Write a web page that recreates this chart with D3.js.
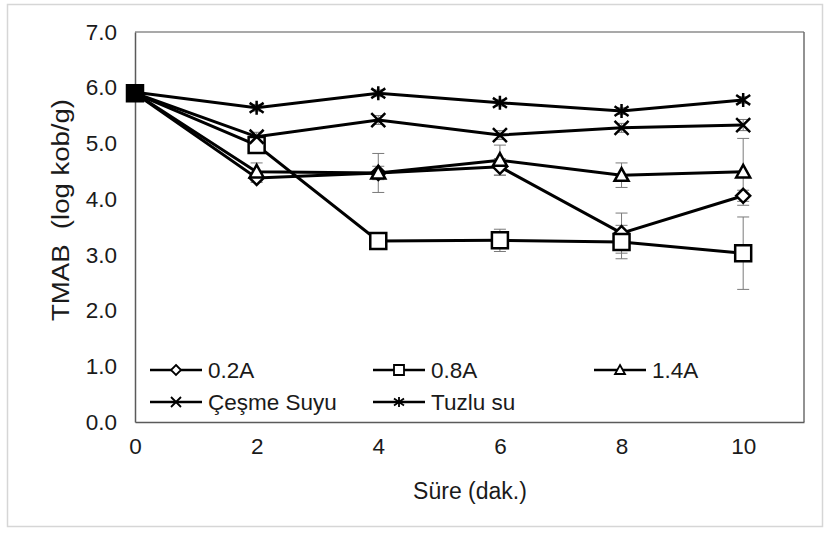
<!DOCTYPE html>
<html>
<head>
	<meta charset="utf-8">
	<script src="https://d3js.org/d3.v7.min.js"></script>
	<style>
		body { margin: 0; background: #fff; }
		text { font-family: "Liberation Sans", Arial, sans-serif; fill: #1a1a1a; }
	</style>
</head>
<body>
<svg id="container"></svg>
</body>
<script>
// data
let times = [0, 2, 4, 6, 8, 10];
let xTicks = [0, 2, 4, 6, 8, 10];
let yTicks = [0, 1, 2, 3, 4, 5, 6, 7];

let names = ['0.2A', '0.8A', '1.4A', 'Çeşme Suyu', 'Tuzlu su'];
let shapes = ['diamond', 'square', 'triangle', 'cross', 'star'];

let v02 = [5.90, 4.38, 4.47, 4.58, 3.39, 4.06];
let v08 = [5.90, 4.97, 3.25, 3.26, 3.23, 3.03];
let v14 = [5.90, 4.49, 4.47, 4.70, 4.43, 4.49];
let vCs = [5.90, 5.12, 5.42, 5.15, 5.28, 5.33];
let vTz = [5.92, 5.64, 5.90, 5.73, 5.58, 5.78];

let e02 = [0.05, 0.08, 0.12, 0.15, 0.36, 0.10];
let e08 = [0.05, 0.15, 0.08, 0.20, 0.30, 0.65];
let e14 = [0.05, 0.16, 0.35, 0.27, 0.22, 0.60];
let eCs = [0.05, 0.08, 0.08, 0.08, 0.08, 0.10];
let eTz = [0.05, 0.06, 0.06, 0.06, 0.06, 0.06];

let values = [v02, v08, v14, vCs, vTz];
let errors = [e02, e08, e14, eCs, eTz];
</script>

<script>
// marker paths centred on 0,0
let markerPath = function(type, s) {
	let h = s / 2;
	if (type === 'diamond') return `M0,${-h}L${h},0L0,${h}L${-h},0Z`;
	if (type === 'square') return `M${-h},${-h}H${h}V${h}H${-h}Z`;
	if (type === 'triangle') return `M0,${-h}L${h},${h * 0.8}H${-h}Z`;
	if (type === 'cross') return `M${-h},${-h}L${h},${h}M${h},${-h}L${-h},${h}`;
	// star: cross plus vertical bar
	return `M${-h},${-h * 0.7}L${h},${h * 0.7}M${h},${-h * 0.7}L${-h},${h * 0.7}M0,${-h}V${h}`;
}

let W = 831, H = 536;
let svg = d3.select('#container').attr('width', W).attr('height', H);

// outer chart border
svg.append('rect')
	.attr('x', 7.5).attr('y', 4.5)
	.attr('width', 815).attr('height', 522)
	.attr('fill', '#fff')
	.attr('stroke', '#d6d6d6')
	.attr('stroke-width', 1.5);

let x = d3.scaleLinear().domain([0, 11]).range([135, 804]);
let y = d3.scaleLinear().domain([0, 7]).range([422, 32]);

// plot frame
svg.append('line').attr('x1', x(0)).attr('x2', x(11)).attr('y1', y(7)).attr('y2', y(7))
	.attr('stroke', '#8c8c8c').attr('stroke-width', 1.5);
svg.append('line').attr('x1', x(11)).attr('x2', x(11)).attr('y1', y(7)).attr('y2', y(0))
	.attr('stroke', '#6e6e6e').attr('stroke-width', 1.5);

let xAxis = svg.append('g')
	.attr('transform', `translate(0,${y(0)})`)
	.call(d3.axisBottom(x).tickValues(xTicks).tickSize(0).tickPadding(16).tickFormat(d3.format('d')));
let yAxis = svg.append('g')
	.attr('transform', `translate(${x(0)},0)`)
	.call(d3.axisLeft(y).tickValues(yTicks).tickSize(0).tickPadding(18).tickFormat(d3.format('.1f')));

[xAxis, yAxis].forEach((a) => {
	a.select('.domain').attr('stroke', '#5a5a5a').attr('stroke-width', 1.5);
	a.selectAll('text').attr('font-size', 22.5).attr('fill', '#1a1a1a')
		.attr('font-family', '"Liberation Sans", Arial, sans-serif');
});

// axis titles
svg.append('text')
	.attr('x', 470).attr('y', 499)
	.attr('text-anchor', 'middle')
	.attr('font-size', 23)
	.text('Süre (dak.)');

svg.append('text')
	.attr('transform', 'translate(69,210) rotate(-90)')
	.attr('text-anchor', 'middle')
	.attr('font-size', 23)
	.attr('textLength', 222)
	.attr('lengthAdjust', 'spacingAndGlyphs')
	.attr('xml:space', 'preserve')
	.style('white-space', 'pre')
	.text('TMAB  (log kob/g)');

// error bars
let errGroup = svg.append('g');
values.forEach((vals, si) => {
	vals.forEach((v, i) => {
		let e = errors[si][i];
		let cx = x(times[i]);
		errGroup.append('line')
			.attr('x1', cx).attr('x2', cx)
			.attr('y1', y(v + e)).attr('y2', y(v - e))
			.attr('stroke', '#7a7a7a').attr('stroke-width', 1);
		[v + e, v - e].forEach((t) => {
			errGroup.append('line')
				.attr('x1', cx - 6).attr('x2', cx + 6)
				.attr('y1', y(t)).attr('y2', y(t))
				.attr('stroke', '#7a7a7a').attr('stroke-width', 1);
		});
	});
});

// series lines and markers
let line = d3.line().x((d, i) => x(times[i])).y((d) => y(d));
values.forEach((vals, si) => {
	let g = svg.append('g');
	g.append('path')
		.datum(vals)
		.attr('d', line)
		.attr('fill', 'none')
		.attr('stroke', '#000')
		.attr('stroke-width', 3);
	let size = shapes[si] === 'square' ? 16 : 14;
	let open = shapes[si] === 'cross' || shapes[si] === 'star';
	g.selectAll('path.m')
		.data(vals)
		.join('path')
		.attr('class', 'm')
		.attr('transform', (d, i) => `translate(${x(times[i])},${y(d)})`)
		.attr('d', markerPath(shapes[si], size))
		// the stacked markers at t=0 read as a solid black block
		.attr('fill', (d, i) => open ? 'none' : (i === 0 ? '#000' : '#fff'))
		.attr('stroke', '#000')
		.attr('stroke-width', 2.5);
});

// legend
let legendPos = [
	{lx: 150, ly: 370}, {lx: 373, ly: 370}, {lx: 594, ly: 370},
	{lx: 150, ly: 402}, {lx: 373, ly: 402}
];
names.forEach((name, si) => {
	let p = legendPos[si];
	let g = svg.append('g').attr('transform', `translate(${p.lx},${p.ly})`);
	g.append('line').attr('x1', 0).attr('x2', 52).attr('y1', 0).attr('y2', 0)
		.attr('stroke', '#000').attr('stroke-width', 2.5);
	g.append('path')
		.attr('transform', 'translate(26,0)')
		.attr('d', markerPath(shapes[si], 10))
		.attr('fill', (shapes[si] === 'cross' || shapes[si] === 'star') ? 'none' : '#fff')
		.attr('stroke', '#000')
		.attr('stroke-width', 1.8);
	g.append('text')
		.attr('x', 58).attr('y', 0).attr('dy', '0.36em')
		.attr('font-size', 22.5)
		.text(name);
});
</script>
</html>
